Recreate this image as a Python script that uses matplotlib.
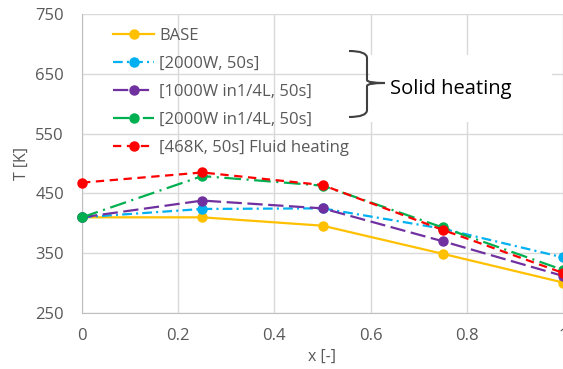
import numpy as np
import matplotlib
matplotlib.use('Agg')
import matplotlib.pyplot as plt
from matplotlib.path import Path
from matplotlib.patches import PathPatch, Rectangle

plt.rcParams['font.family'] = ['Open Sans', 'DejaVu Sans']
plt.rcParams['lines.scale_dashes'] = False

x_pos = [0, 0.25, 0.5, 0.75, 1.0]
base = [410, 410, 396, 349, 301]
w2000 = [410, 424, 425, 391, 343]
w1000_q = [410, 438, 425, 370, 312]
w2000_q = [410, 479, 463, 393, 322]
fluid = [468, 485, 464, 389, 317]

labels = ['BASE', '[2000W, 50s]', '[1000W in1/4L, 50s]',
          '[2000W in1/4L, 50s]', '[468K, 50s] Fluid heating']
colors = ['#FFC000', '#00B0F0', '#7030A0', '#00B050', '#FF0000']
styles = ['-', (0, (7, 3, 1.5, 3)), (0, (11, 4)), (0, (12, 4, 1.5, 4)), (0, (6, 4))]
series = [base, w2000, w1000_q, w2000_q, fluid]

W, H = 563, 369
fig = plt.figure(figsize=(W / 100, H / 100), dpi=100)
ax = fig.add_axes([82 / W, 1 - 313 / H, (563 - 82) / W, (313 - 14) / H])

for vals, lab, c, ls in zip(series, labels, colors, styles):
    ax.plot(x_pos, vals, color=c, linestyle=ls, lw=1.6, marker='o', ms=6.5,
            label=lab, clip_on=False, zorder=3)

ax.set_xlim(0, 1)
ax.set_ylim(250, 750)
ax.set_xticks(np.arange(0, 1.01, 0.2))
ax.set_xticklabels(['0', '0.2', '0.4', '0.6', '0.8', '1'])
ax.set_yticks([250, 350, 450, 550, 650, 750])
ax.set_axisbelow(True)
ax.grid(color='#D9D9D9', lw=1)
for s in ['top', 'right']:
    ax.spines[s].set_visible(False)
for s in ['left', 'bottom']:
    ax.spines[s].set_color('#BFBFBF')
ax.tick_params(axis='both', length=0, labelsize=12, labelcolor='#595959')
ax.tick_params(axis='x', pad=11)
ax.tick_params(axis='y', pad=13)
ax.set_xlabel('x [-]', fontsize=11.5, color='#595959', labelpad=3)
ax.set_ylabel('T [K]', fontsize=11.5, color='#595959', labelpad=4)

leg = ax.legend(loc='upper left', bbox_to_anchor=(106 / W, 1 - 21 / H),
                bbox_transform=fig.transFigure, frameon=False, fontsize=12,
                handlelength=2.5, handletextpad=0.3, labelspacing=0.72,
                borderaxespad=0)
for t in leg.get_texts():
    t.set_color('#595959')


def fp(px, py):
    return (px / W, 1 - py / H)


# white box behind the annotation
x0, y0 = fp(370, 122)
ax.add_patch(Rectangle((x0, y0), 182 / W, 67 / H, transform=fig.transFigure,
                       facecolor='white', edgecolor='none', zorder=1))

# curly brace
pts = [fp(349, 51), fp(367, 51), fp(367, 58), fp(367, 80), fp(367, 83), fp(385, 83),
       fp(367, 83), fp(367, 86), fp(367, 110), fp(367, 117), fp(349, 117)]
codes = [Path.MOVETO, Path.CURVE3, Path.CURVE3, Path.LINETO, Path.CURVE3, Path.CURVE3,
         Path.CURVE3, Path.CURVE3, Path.LINETO, Path.CURVE3, Path.CURVE3]
brace = PathPatch(Path(pts, codes), transform=fig.transFigure, facecolor='none',
                  edgecolor='#404040', lw=1.5, zorder=4)
fig.patches.append(brace)

fig.text(390 / W, 1 - 89 / H, 'Solid heating', fontsize=14.5, color='black',
         va='center', ha='left')

fig.savefig('out.png', dpi=100)
